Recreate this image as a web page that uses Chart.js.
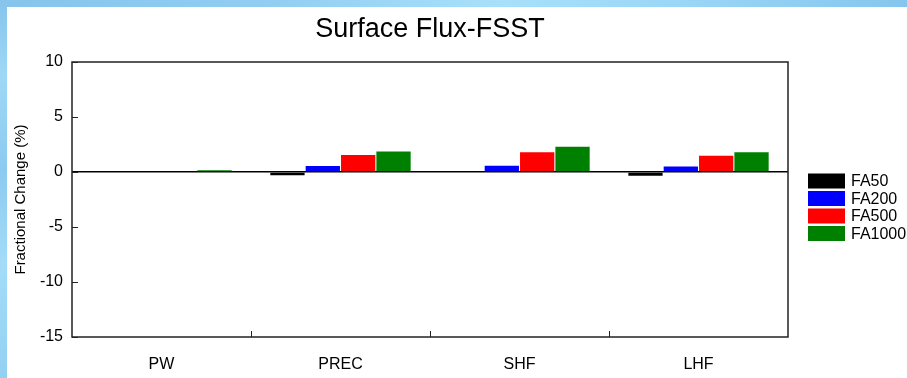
<!DOCTYPE html>
<html>
<head>
<meta charset="utf-8">
<script src="https://cdn.jsdelivr.net/npm/chart.js@4.4.1/dist/chart.umd.min.js"></script>
<style>
  html, body { margin: 0; padding: 0; background: #fff; overflow: hidden; }
  #wrap { position: relative; width: 907px; height: 378px; background: #fff; }
  #topStrip { position: absolute; left: 0; top: 0; width: 907px; height: 7px;
    background: linear-gradient(to right, #86c4ec 0%, #92cef2 30%, #a8e0fa 55%, #9ad6f6 75%, #86c6ee 100%); }
  #leftStrip { position: absolute; left: 0; top: 0; width: 7px; height: 378px;
    background: linear-gradient(to bottom, #86c4ec 0%, #9fd8f6 20%, #8ccaf0 45%, #a4dcf8 70%, #92d0f2 100%); }
  canvas { position: absolute; left: 0; top: 0; }
</style>
</head>
<body>
<div id="wrap">
  <div id="topStrip"></div>
  <div id="leftStrip"></div>
  <canvas id="chart" width="907" height="378"></canvas>
</div>
<script>
// Categories and series (fractional change, %)
const categories = ['PW', 'PREC', 'SHF', 'LHF'];
const seriesNames = ['FA50', 'FA200', 'FA500', 'FA1000'];
const fa50   = [0, -0.30, 0,    -0.35];
const fa200  = [0,  0.55, 0.57,  0.50];
const fa500  = [0,  1.55, 1.80,  1.48];
const fa1000 = [0.15, 1.87, 2.30, 1.80];
const yTicks = [-15, -10, -5, 0, 5, 10];

const seriesColors = ['#000000', '#0000ff', '#ff0000', '#008000'];
const seriesValues = [fa50, fa200, fa500, fa1000];

const FONT = "'Liberation Sans', Arial, sans-serif";
Chart.defaults.font.family = FONT;
Chart.defaults.color = '#000';

// Box around the plot area, inward tick marks, and the legend block on the right
const framePlugin = {
  id: 'frame',
  afterDraw(chart) {
    const { ctx, chartArea: a, scales } = chart;
    ctx.save();
    ctx.strokeStyle = '#222';
    ctx.lineWidth = 1.5;
    ctx.strokeRect(a.left, a.top, a.right - a.left, a.bottom - a.top);

    // y ticks pointing into the plot
    ctx.lineWidth = 1;
    scales.y.ticks.forEach(t => {
      const py = Math.round(scales.y.getPixelForValue(t.value)) + 0.5;
      ctx.beginPath();
      ctx.moveTo(a.left, py);
      ctx.lineTo(a.left + 6, py);
      ctx.stroke();
    });
    // x ticks at category boundaries, pointing up
    for (let i = 0; i < categories.length - 1; i++) {
      const px = Math.round((scales.x.getPixelForValue(i) + scales.x.getPixelForValue(i + 1)) / 2) + 0.5;
      ctx.beginPath();
      ctx.moveTo(px, a.bottom);
      ctx.lineTo(px, a.bottom - 6);
      ctx.stroke();
    }

    // legend
    ctx.font = '16px ' + FONT;
    ctx.textBaseline = 'middle';
    ctx.textAlign = 'left';
    chart.data.datasets.forEach((ds, i) => {
      const cy = 181 + i * 17.5;
      ctx.fillStyle = ds.backgroundColor;
      ctx.fillRect(808, cy - 7.5, 37, 15);
      ctx.fillStyle = '#000';
      ctx.fillText(ds.label, 851, cy + 1);
    });
    ctx.restore();
  }
};

new Chart(document.getElementById('chart'), {
  type: 'bar',
  data: {
    labels: categories,
    datasets: seriesNames.map((name, i) => ({
      label: name,
      data: seriesValues[i],
      backgroundColor: seriesColors[i],
      borderWidth: 0,
      categoryPercentage: 0.79,
      barPercentage: 0.97
    }))
  },
  options: {
    responsive: false,
    animation: false,
    layout: { padding: { left: 0, right: 119, top: 0, bottom: 0 } },
    plugins: {
      legend: { display: false },
      tooltip: { enabled: false },
      title: {
        display: true,
        text: 'Surface Flux-FSST',
        fullSize: false,
        color: '#000',
        font: { size: 27, weight: 'normal', family: FONT },
        padding: { top: 13, bottom: 16.6 }
      }
    },
    scales: {
      x: {
        grid: { display: false },
        border: { display: false },
        ticks: { font: { size: 16 }, color: '#000', padding: 10 },
        afterFit(scale) { scale.height = 41; }
      },
      y: {
        min: -15,
        max: 10,
        afterBuildTicks(scale) { scale.ticks = yTicks.map(v => ({ value: v })); },
        border: { display: false },
        grid: {
          drawTicks: false,
          color: ctx => (ctx.tick && ctx.tick.value === 0 ? '#000' : 'rgba(0,0,0,0)'),
          lineWidth: 1.5
        },
        ticks: { font: { size: 16 }, color: '#000', padding: 9 },
        title: {
          display: true,
          text: 'Fractional Change (%)',
          color: '#000',
          font: { size: 15, family: FONT },
          padding: { top: 12, bottom: 0 }
        },
        afterFit(scale) { scale.width = 72; }
      }
    }
  },
  plugins: [framePlugin]
});
</script>
</body>
</html>
